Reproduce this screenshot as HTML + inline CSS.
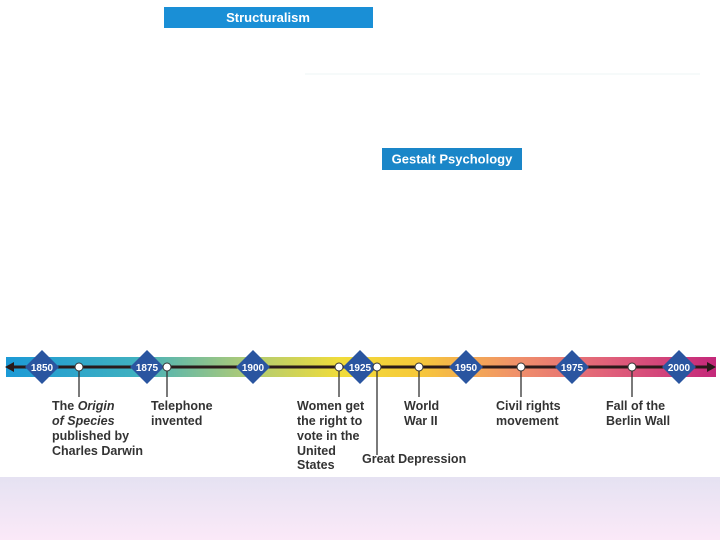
<!DOCTYPE html>
<html><head><meta charset="utf-8"><style>
body{margin:0;width:720px;height:540px;overflow:hidden;background:#fff;font-family:"Liberation Sans",sans-serif}
</style></head><body>
<svg width="720" height="540" viewBox="0 0 720 540" xmlns="http://www.w3.org/2000/svg">
<defs>
<linearGradient id="bar" x1="0" x2="1" y1="0" y2="0">
<stop offset="0" stop-color="#1c9ad6"/>
<stop offset="0.18" stop-color="#3fb0c0"/>
<stop offset="0.33" stop-color="#a9c97a"/>
<stop offset="0.47" stop-color="#f0dc3a"/>
<stop offset="0.58" stop-color="#f7c93a"/>
<stop offset="0.72" stop-color="#f0906a"/>
<stop offset="0.85" stop-color="#e0607a"/>
<stop offset="1" stop-color="#c4287a"/>
</linearGradient>
<linearGradient id="bot" x1="0" x2="0" y1="0" y2="1">
<stop offset="0" stop-color="#e5e2f2"/>
<stop offset="1" stop-color="#fbe9f8"/>
</linearGradient>
</defs>
<rect x="164" y="7" width="209" height="21" fill="#1a8fd6"/>
<text x="268" y="22" fill="#fff" font-size="13" font-weight="bold" text-anchor="middle">Structuralism</text>
<rect x="382" y="148" width="140" height="22" fill="#1a86c8"/>
<text x="452" y="163.5" fill="#fff" font-size="13" font-weight="bold" text-anchor="middle">Gestalt Psychology</text>
<line x1="305" y1="74" x2="700" y2="74" stroke="#eef4f6" stroke-width="1"/>
<rect x="6" y="357" width="710" height="20" fill="url(#bar)"/>
<line x1="12" y1="367" x2="708" y2="367" stroke="#2a1a1a" stroke-width="3"/>
<polygon points="5,367 14,362 14,372" fill="#2a1a1a"/>
<polygon points="716,367 707,362 707,372" fill="#2a1a1a"/>
<g stroke="#333" stroke-width="1.3">
<line x1="79" y1="367" x2="79" y2="397"/>
<line x1="167" y1="367" x2="167" y2="397"/>
<line x1="339" y1="367" x2="339" y2="397"/>
<line x1="377" y1="367" x2="377" y2="455"/>
<line x1="419" y1="367" x2="419" y2="397"/>
<line x1="521" y1="367" x2="521" y2="397"/>
<line x1="632" y1="367" x2="632" y2="397"/>
</g>
<g fill="#2a55a0">
<polygon points="42,350 59,367 42,384 25,367"/>
<polygon points="147,350 164,367 147,384 130,367"/>
<polygon points="253,350 270,367 253,384 236,367"/>
<polygon points="360,350 377,367 360,384 343,367"/>
<polygon points="466,350 483,367 466,384 449,367"/>
<polygon points="572,350 589,367 572,384 555,367"/>
<polygon points="679,350 696,367 679,384 662,367"/>
</g>
<g fill="#fff" font-size="10" font-weight="bold" text-anchor="middle">
<text x="42" y="371">1850</text><text x="147" y="371">1875</text><text x="253" y="371">1900</text>
<text x="360" y="371">1925</text><text x="466" y="371">1950</text><text x="572" y="371">1975</text><text x="679" y="371">2000</text>
</g>
<g fill="#fff" stroke="#333" stroke-width="1">
<circle cx="79" cy="367" r="4"/><circle cx="167" cy="367" r="4"/><circle cx="339" cy="367" r="4"/>
<circle cx="377" cy="367" r="4"/><circle cx="419" cy="367" r="4"/><circle cx="521" cy="367" r="4"/><circle cx="632" cy="367" r="4"/>
</g>
<g fill="#333" font-size="12.5" font-weight="bold">
<text x="52" y="410">The <tspan font-style="italic">Origin</tspan></text>
<text x="52" y="425" font-style="italic">of Species</text>
<text x="52" y="440">published by</text>
<text x="52" y="455">Charles Darwin</text>
<text x="151" y="410">Telephone</text>
<text x="151" y="425">invented</text>
<text x="297" y="410">Women get</text>
<text x="297" y="425">the right to</text>
<text x="297" y="440">vote in the</text>
<text x="297" y="455">United</text>
<text x="297" y="469">States</text>
<text x="362" y="463">Great Depression</text>
<text x="404" y="410">World</text>
<text x="404" y="425">War II</text>
<text x="496" y="410">Civil rights</text>
<text x="496" y="425">movement</text>
<text x="606" y="410">Fall of the</text>
<text x="606" y="425">Berlin Wall</text>
</g>
<rect x="0" y="477" width="720" height="63" fill="url(#bot)"/>
</svg>
</body></html>
